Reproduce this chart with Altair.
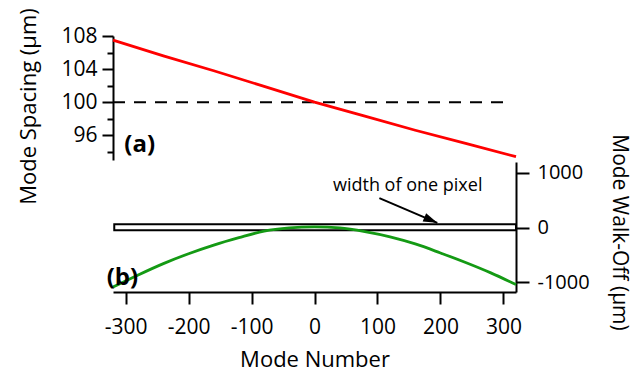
import altair as alt
import pandas as pd

FONT = "Open Sans"

# (a) mode spacing
mode_a = [-320, -240, -160, -80, 0, 80, 160, 240, 320]
spacing = [107.5, 105.6, 103.8, 101.9, 100.0, 98.3, 96.6, 95.0, 93.4]

# (b) mode walk-off
mode_b = [-320, -280, -240, -200, -160, -120, -80, -40, 0, 40, 80, 120, 160, 200, 240, 280, 320]
walkoff = [-1090, -868, -660, -480, -322, -186, -66, -6, 14, -6, -74, -170, -300, -465, -640, -830, -1045]

# reference line and pixel box
ref_x = [-320, 306]
ref_y = [100, 100]
pixel_x = [-318, 320]
pixel_y = [-50, 60]

# annotation
arrow_from = [103, 540]
arrow_to = [195, 86]
note_pos = [148, 759]
note_text = "width of one pixel"
label_a = [-302, 94.8]
label_b = [-330, -925]

df_a = pd.DataFrame({"mode": mode_a, "val": spacing})
df_b = pd.DataFrame({"mode": mode_b, "val": walkoff})
df_ref = pd.DataFrame({"mode": ref_x, "val": ref_y})
df_rect = pd.DataFrame({"x": [pixel_x[0]], "x2": [pixel_x[1]], "y": [pixel_y[0]], "y2": [pixel_y[1]]})
df_arrow = pd.DataFrame({"x": [arrow_from[0]], "y": [arrow_from[1]], "x2": [arrow_to[0]], "y2": [arrow_to[1]]})
df_head = pd.DataFrame({"x": [arrow_to[0]], "y": [arrow_to[1]]})
df_note = pd.DataFrame({"x": [note_pos[0]], "y": [note_pos[1]], "t": [note_text]})
df_la = pd.DataFrame({"x": [label_a[0]], "y": [label_a[1]], "t": ["(a)"]})
df_lb = pd.DataFrame({"x": [label_b[0]], "y": [label_b[1]], "t": ["(b)"]})

W, H = 403, 256
x_scale = alt.Scale(domain=[-320, 320], nice=False, zero=False)
x_axis = alt.Axis(values=[-300, -200, -100, 0, 100, 200, 300], title="Mode Number",
                  tickSize=12, tickWidth=2, domainWidth=2, domainColor="black", tickColor="black",
                  labelFontSize=21, labelFont=FONT, labelColor="black", labelPadding=12,
                  labelExpr="'' + datum.value", labelFlush=False,
                  titleFontSize=22, titleFont=FONT, titleFontWeight="normal", titleColor="black",
                  titlePadding=12, grid=False)

ya_scale = alt.Scale(domain=[93, 108], range=[124, 0], nice=False, zero=False)
ya_axis = alt.Axis(values=[96, 100, 104, 108], title="Mode Spacing (µm)", orient="left",
                   tickSize=11, tickWidth=2, domainWidth=2, domainColor="black", tickColor="black",
                   labelFontSize=21, labelFont=FONT, labelColor="black", labelPadding=5,
                   labelExpr="'' + datum.value",
                   titleFontSize=22, titleFont=FONT, titleFontWeight="normal", titleColor="black",
                   titlePadding=20, titleY=70, grid=False)
ya_minor_axis = alt.Axis(values=[94, 98, 102, 106], title=None, orient="left", labels=False,
                         domain=False, tickSize=6, tickWidth=2, tickColor="black", grid=False)

yb_scale = alt.Scale(domain=[-1180, 1200], range=[256, 126], nice=False, zero=False)
yb_axis = alt.Axis(values=[-1000, 0, 1000], title="Mode Walk-Off (µm)", orient="right",
                   tickSize=13, tickWidth=2, domainWidth=2, domainColor="black", tickColor="black",
                   labelFontSize=20, labelFont=FONT, labelColor="black", labelPadding=8,
                   labelExpr="'' + datum.value",
                   titleFontSize=21, titleFont=FONT, titleFontWeight="normal", titleColor="black",
                   titlePadding=19, titleAngle=90, titleY=196, grid=False)

X = lambda f="mode": alt.X(f"{f}:Q", scale=x_scale, axis=x_axis)

top_line = alt.Chart(df_a).mark_line(color="#ff0000", strokeWidth=2.8, clip=False).encode(
    x=X(), y=alt.Y("val:Q", scale=ya_scale, axis=ya_axis))
top_ref = alt.Chart(df_ref).mark_line(color="black", strokeWidth=2, strokeDash=[12, 9]).encode(
    x=X(), y=alt.Y("val:Q", scale=ya_scale, axis=ya_axis))
top_lab = alt.Chart(df_la).mark_text(font=FONT, fontSize=24, fontWeight="bold", align="left",
                                     baseline="middle", color="black").encode(
    x=X("x"), y=alt.Y("y:Q", scale=ya_scale, axis=ya_axis), text="t:N")
top = alt.layer(top_ref, top_line, top_lab)

minor = alt.Chart(df_a).mark_point(opacity=0).encode(
    x=X(), y=alt.Y("val:Q", scale=ya_scale, axis=ya_minor_axis))

yb = lambda f="val": alt.Y(f"{f}:Q", scale=yb_scale, axis=yb_axis)
rect = alt.Chart(df_rect).mark_rect(fill="white", stroke="black", strokeWidth=2).encode(
    x=X("x"), x2="x2:Q", y=yb("y"), y2="y2:Q")
green = alt.Chart(df_b).mark_line(color="#149a14", strokeWidth=2.8, interpolate="monotone").encode(
    x=X(), y=yb())
arrow = alt.Chart(df_arrow).mark_rule(color="black", strokeWidth=2).encode(
    x=X("x"), x2="x2:Q", y=yb("y"), y2="y2:Q")
head = alt.Chart(df_head).mark_point(shape="M0,0L-1,-0.32L-1,0.32Z", size=784, angle=23,
                                     filled=True, color="black", opacity=1).encode(
    x=X("x"), y=yb("y"))
note = alt.Chart(df_note).mark_text(font=FONT, fontSize=18, align="center", baseline="middle",
                                    color="black").encode(x=X("x"), y=yb("y"), text="t:N")
lab_b = alt.Chart(df_lb).mark_text(font=FONT, fontSize=24, fontWeight="bold", align="left",
                                   baseline="middle", color="black").encode(
    x=X("x"), y=yb("y"), text="t:N")
bottom = alt.layer(rect, green, arrow, head, note, lab_b)

chart = alt.layer(top, minor, bottom).resolve_scale(y="independent").properties(
    width=W, height=H, autosize=alt.AutoSizeParams(type="none"),
    padding={"left": 113, "top": 36, "right": 636 - 113 - W, "bottom": 371 - 36 - H},
).configure(background="white").configure_view(stroke=None)

chart.save("out.html", embed_options={"renderer": "svg", "actions": False})
